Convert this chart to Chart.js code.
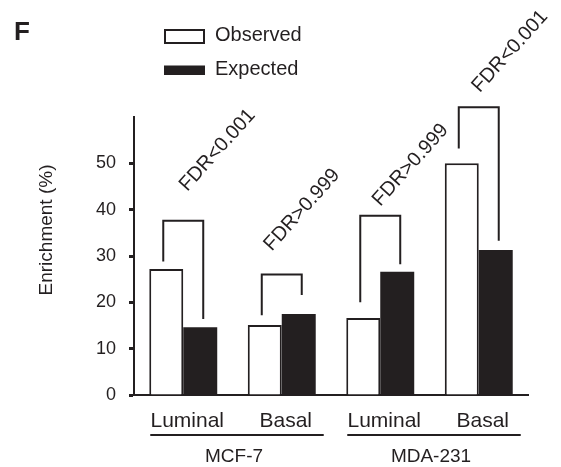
<!DOCTYPE html>
<html lang="en">
<head>
<meta charset="UTF-8" />
<title>Enrichment</title>
<script src="https://cdn.jsdelivr.net/npm/chart.js@4.4.0/dist/chart.umd.min.js"></script>
<style>
  body { margin: 0; background: #fff; }
  #wrap { width: 561px; height: 467px; position: relative; }
</style>
</head>
<body>
<div id="wrap"><canvas id="myChart"></canvas></div>
<script>
const categories = ["Luminal", "Basal", "Luminal", "Basal"];
const cellLines = ["MCF-7", "MDA-231"];
const observed = [27.2, 15.1, 16.6, 50.0];
const expected = [14.6, 17.5, 26.6, 31.3];
const yTicks = [0, 10, 20, 30, 40, 50];

// significance brackets: top of bracket, bottom of left leg, bottom of right leg
const bracketTop = [37.6, 26.0, 38.7, 62.1];
const bracketLeftEnd = [28.8, 17.2, 20.0, 53.2];
const bracketRightEnd = [16.4, 21.6, 28.2, 33.3];
const fdrLabels = ["FDR<0.001", "FDR>0.999", "FDR>0.999", "FDR<0.001"];
const fdrLabelAt = [43.8, 30.9, 40.6, 65.1];

const INK = "#231f20";
const FONT = "'Liberation Sans', Arial, Helvetica, sans-serif";
const fdrNudge = [24, 10, 20, 21];

const annotate = {
  id: "annotate",
  afterDraw(chart) {
    const { ctx, scales: { y } } = chart;
    const obs = chart.getDatasetMeta(0).data;
    const exp = chart.getDatasetMeta(1).data;
    ctx.save();
    ctx.strokeStyle = INK;
    ctx.fillStyle = INK;
    ctx.lineWidth = 2;
    ctx.lineJoin = "miter";

    // brackets + FDR text
    for (let i = 0; i < categories.length; i++) {
      const xl = obs[i].x - 3;
      const xr = exp[i].x + 3;
      const yt = y.getPixelForValue(bracketTop[i]);
      ctx.beginPath();
      ctx.moveTo(xl, y.getPixelForValue(bracketLeftEnd[i]));
      ctx.lineTo(xl, yt);
      ctx.lineTo(xr, yt);
      ctx.lineTo(xr, y.getPixelForValue(bracketRightEnd[i]));
      ctx.stroke();

      ctx.save();
      ctx.translate(xl + fdrNudge[i], y.getPixelForValue(fdrLabelAt[i]));
      ctx.rotate(-48 * Math.PI / 180);
      ctx.font = "20px " + FONT;
      ctx.textAlign = "left";
      ctx.textBaseline = "alphabetic";
      ctx.fillText(fdrLabels[i], 0, 0);
      ctx.restore();
    }

    // cell line underlines and names
    ctx.font = "19px " + FONT;
    ctx.textAlign = "center";
    ctx.textBaseline = "alphabetic";
    cellLines.forEach((name, g) => {
      const a = obs[g * 2], b = exp[g * 2 + 1];
      const left = a.x - a.width / 2 + 1;
      const right = b.x + b.width / 2 + 8;
      ctx.beginPath();
      ctx.moveTo(left, 435);
      ctx.lineTo(right, 435);
      ctx.stroke();
      ctx.fillText(name, (left + right) / 2 - 3, 462);
    });

    // y axis title
    ctx.save();
    ctx.translate(46.7, 230);
    ctx.rotate(-Math.PI / 2);
    ctx.font = "19px " + FONT;
    ctx.textBaseline = "middle";
    ctx.fillText("Enrichment (%)", 0, 0);
    ctx.restore();

    // panel letter
    ctx.textAlign = "left";
    ctx.font = "bold 26px " + FONT;
    ctx.fillText("F", 14, 40);

    // legend
    ctx.fillStyle = "#fff";
    ctx.fillRect(165, 30, 39, 13);
    ctx.strokeRect(165, 30, 39, 13);
    ctx.fillStyle = INK;
    ctx.fillRect(164, 65.5, 41, 9.5);
    ctx.font = "20px " + FONT;
    ctx.fillText("Observed", 215, 40.7);
    ctx.fillText("Expected", 215, 74.5);
    ctx.restore();
  }
};

new Chart(document.getElementById("myChart"), {
  type: "bar",
  data: {
    labels: categories,
    datasets: [
      {
        label: "Observed",
        data: observed,
        backgroundColor: "#ffffff",
        borderColor: INK,
        borderWidth: 2,
      },
      {
        label: "Expected",
        data: expected,
        backgroundColor: INK,
        borderColor: INK,
        borderWidth: 0,
      },
    ],
  },
  options: {
    responsive: true,
    maintainAspectRatio: false,
    animation: false,
    devicePixelRatio: 1,
    layout: { padding: { top: 117, right: 33, bottom: 0, left: 0 } },
    datasets: { bar: { categoryPercentage: 0.69, barPercentage: 1.0 } },
    plugins: {
      legend: { display: false },
      tooltip: { enabled: false },
    },
    scales: {
      x: {
        grid: { display: true, drawOnChartArea: false, drawTicks: false },
        border: { display: true, color: INK, width: 2 },
        ticks: {
          color: INK,
          font: { family: FONT, size: 21 },
          padding: 14,
          labelOffset: 4,
          maxRotation: 0,
          autoSkip: false,
        },
        afterFit(scale) { scale.height = 72; },
      },
      y: {
        min: 0,
        max: 60,
        grid: {
          drawOnChartArea: false,
          drawTicks: true,
          tickLength: 5,
          tickWidth: 3,
          tickColor: INK,
        },
        border: { display: true, color: INK, width: 2 },
        ticks: {
          color: INK,
          font: { family: FONT, size: 18 },
          padding: 13,
        },
        afterBuildTicks(scale) { scale.ticks = yTicks.map((v) => ({ value: v })); },
        afterFit(scale) { scale.width = 134; },
      },
    },
  },
  plugins: [annotate],
});
</script>
</body>
</html>
